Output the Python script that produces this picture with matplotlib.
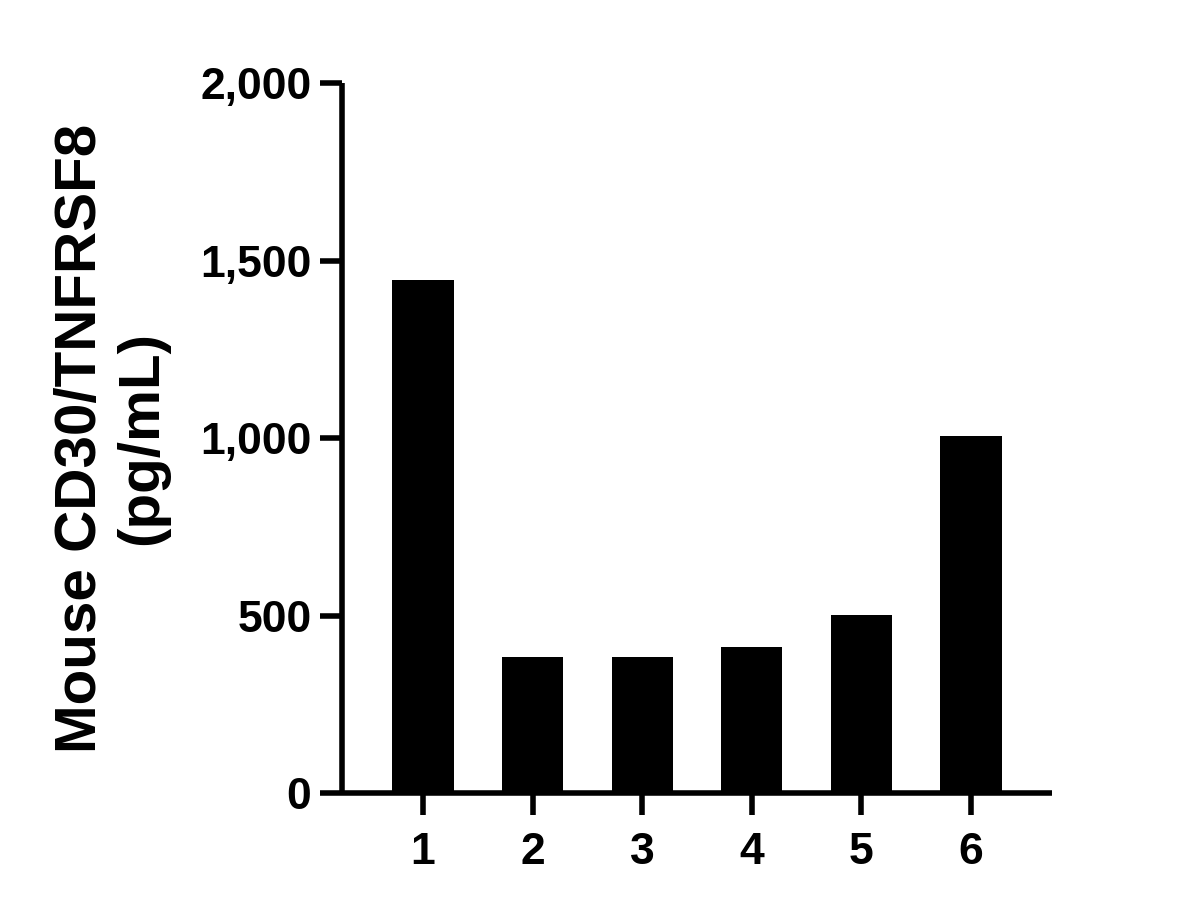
import matplotlib
matplotlib.use('Agg')
import matplotlib.pyplot as plt
from matplotlib.ticker import FuncFormatter

samples = ["1", "2", "3", "4", "5", "6"]
conc = [1445, 383, 383, 410, 501, 1005]
y_ticks = [0, 500, 1000, 1500, 2000]

plt.rcParams['font.family'] = ['Liberation Sans', 'DejaVu Sans']
plt.rcParams['font.weight'] = 'bold'

fig = plt.figure(figsize=(11.89, 9.09), dpi=100)
ax = fig.add_axes([342/1189, 1 - 793/909, (1052-342)/1189, (793-83)/909])

x = list(range(1, len(samples) + 1))
ax.bar(x, conc, width=0.56, color="black", zorder=2)

ax.set_xlim(0.26, 6.74)
ax.set_ylim(0, 2000)
ax.set_xticks(x)
ax.set_xticklabels(samples)
ax.set_yticks(y_ticks)
ax.yaxis.set_major_formatter(FuncFormatter(lambda v, p: f"{int(v):,}"))

for s in ["top", "right"]:
    ax.spines[s].set_visible(False)
for s in ["left", "bottom"]:
    ax.spines[s].set_linewidth(4)
    ax.spines[s].set_capstyle('butt')

ax.tick_params(axis='both', length=16, width=4, labelsize=32)
ax.tick_params(axis='x', pad=12)
ax.tick_params(axis='y', pad=6)

ax.set_ylabel("Mouse CD30/TNFRSF8\n(pg/mL)", fontsize=42, fontweight='bold',
              linespacing=1.18)
ax.yaxis.set_label_coords(-0.243, 0.5)

plt.savefig("out.png", dpi=100)
plt.close(fig)
